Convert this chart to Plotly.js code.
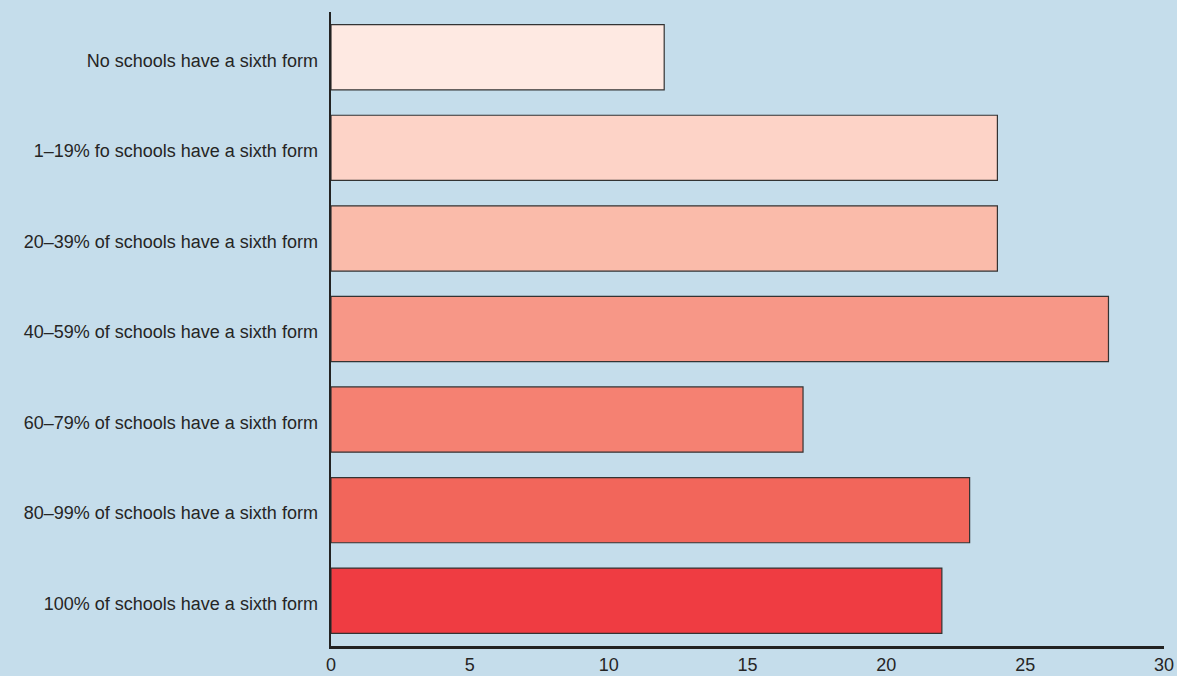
<!DOCTYPE html>
<html>
<head>
<meta charset="utf-8">
<script src="https://cdn.plot.ly/plotly-3.0.1.min.js"></script>
<style>html,body{margin:0;padding:0;background:#c5ddeb;}#chart{width:1177px;height:676px;}</style>
</head>
<body>
<div id="chart"></div>
<script>
const categories = [
  "No schools have a sixth form",
  "1\u201319% fo schools have a sixth form",
  "20\u201339% of schools have a sixth form",
  "40\u201359% of schools have a sixth form",
  "60\u201379% of schools have a sixth form",
  "80\u201399% of schools have a sixth form",
  "100% of schools have a sixth form"
];
const values = [12, 24, 24, 28, 17, 23, 22];
const barColors = ["#fee9e2", "#fdd3c7", "#fabbaa", "#f79787", "#f58172", "#f2665b", "#ef3c42"];
const xTicks = [0, 5, 10, 15, 20, 25, 30];

const trace = {
  type: "bar",
  orientation: "h",
  x: values,
  y: categories,
  marker: {color: barColors, line: {color: "#333333", width: 1.2}},
  hoverinfo: "x+y"
};

const layout = {
  width: 1177,
  height: 676,
  paper_bgcolor: "#c5ddeb",
  plot_bgcolor: "#c5ddeb",
  margin: {l: 331, r: 13, t: 12, b: 30},
  bargap: 0.28,
  showlegend: false,
  font: {family: "Liberation Sans, Arial, sans-serif", size: 18, color: "#252525"},
  xaxis: {
    range: [0, 30],
    tickvals: xTicks,
    ticktext: xTicks.map(String),
    showgrid: false,
    zeroline: false,
    showline: true,
    linecolor: "#222222",
    linewidth: 2.5,
    ticks: "",
    ticklabelstandoff: 1,
    fixedrange: true
  },
  yaxis: {
    type: "category",
    autorange: false,
    range: [6.5, -0.5],
    showgrid: false,
    zeroline: false,
    showline: true,
    linecolor: "#222222",
    linewidth: 2.5,
    ticks: "",
    ticklabelstandoff: 7,
    ticklabelshift: -3,
    fixedrange: true
  }
};

Plotly.newPlot("chart", [trace], layout, {displayModeBar: false, staticPlot: true});
</script>
</body>
</html>
